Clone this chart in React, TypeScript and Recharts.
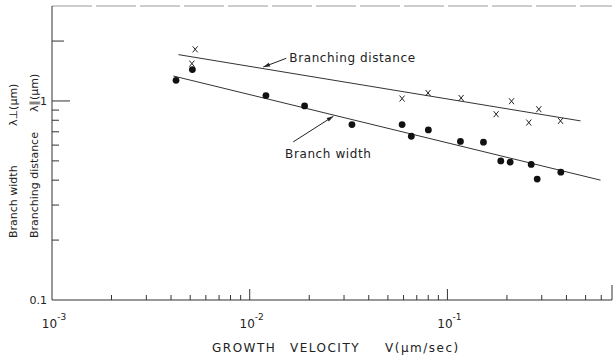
import React from "react";
import { ScatterChart, Scatter, XAxis, YAxis, ReferenceLine, ReferenceDot } from "recharts";

// growth velocity V (um/sec) and spacing lambda (um)
const distanceV = [0.0053, 0.0051, 0.059, 0.0798, 0.1173, 0.1764, 0.211, 0.258, 0.29, 0.3734];
const distanceL = [1.817, 1.541, 1.028, 1.097, 1.035, 0.858, 0.997, 0.779, 0.909, 0.794];

const widthV = [0.00424, 0.00513, 0.01208, 0.01895, 0.0329, 0.059, 0.0657, 0.0801, 0.1164, 0.1522, 0.1862, 0.2077, 0.2653, 0.2845, 0.3747];
const widthL = [1.27, 1.437, 1.064, 0.944, 0.761, 0.761, 0.665, 0.715, 0.626, 0.621, 0.5, 0.493, 0.48, 0.405, 0.439];

// fitted straight lines (end points)
const distanceFitV = [0.00436, 0.4715];
const distanceFitL = [1.709, 0.794];
const widthFitV = [0.00411, 0.595];
const widthFitL = [1.335, 0.4];

const xTicks = [
  0.001, 0.002, 0.003, 0.004, 0.005, 0.006, 0.007, 0.008, 0.009,
  0.01, 0.02, 0.03, 0.04, 0.05, 0.06, 0.07, 0.08, 0.09,
  0.1, 0.2, 0.3, 0.4, 0.5, 0.6, 0.68,
];
const yTicks = [0.1, 0.2, 0.3, 0.4, 0.5, 0.6, 0.7, 0.8, 0.9, 1, 2];

const toPoints = (vs: number[], ls: number[]) => vs.map((v, i) => ({ v, l: ls[i] }));

const INK = "#222";
const FONT = "'DejaVu Sans', sans-serif";

const XTick = (props: any) => {
  const { x, y, payload } = props;
  const val = payload.value;
  const lg = Math.log10(val);
  const exp = Math.round(lg);
  const decade = Math.abs(lg - exp) < 1e-6;
  let len = 5;
  if (val > 0.65) len = 15;
  else if (val === 0.001) len = 0;
  else if (decade) len = 11;
  return (
    <g>
      {len > 0 && <line x1={x} x2={x} y1={y} y2={y - len} stroke="#333" strokeWidth={1} />}
      {decade && (
        <text x={x + 2} y={y + 28} textAnchor="middle" fontSize={12} fill={INK} fontFamily={FONT}>
          10
          <tspan dy={-8} fontSize={9}>{exp}</tspan>
        </text>
      )}
    </g>
  );
};

const YTick = (props: any) => {
  const { x, y, payload } = props;
  const val = payload.value;
  let len = 7;
  if (val === 1) len = 18;
  else if (val === 2) len = 12;
  else if (val === 0.1) len = 0;
  return (
    <g>
      {len > 0 && <line x1={x} x2={x + len} y1={y} y2={y} stroke="#333" strokeWidth={1} />}
      {(val === 1 || val === 0.1) && (
        <text x={x - 5} y={y + 4} textAnchor="end" fontSize={11} fill={INK} fontFamily={FONT}>
          {val === 1 ? "1" : "0.1"}
        </text>
      )}
    </g>
  );
};

const Dot = (props: any) => <circle cx={props.cx} cy={props.cy} r={3.4} fill="#111" />;

const Cross = (props: any) => {
  const { cx, cy } = props;
  return (
    <g stroke={INK} strokeWidth={1}>
      <line x1={cx - 2.5} y1={cy - 3} x2={cx + 2.5} y2={cy + 3} />
      <line x1={cx + 2.5} y1={cy - 3} x2={cx - 2.5} y2={cy + 3} />
    </g>
  );
};

const NoPoint = () => <g />;

const Arrow = (props: any) => {
  const { x1, y1, x2, y2 } = props;
  const a = Math.atan2(y2 - y1, x2 - x1);
  const h = 7;
  const w = 0.3;
  const p1 = `${x2 - h * Math.cos(a - w)},${y2 - h * Math.sin(a - w)}`;
  const p2 = `${x2 - h * Math.cos(a + w)},${y2 - h * Math.sin(a + w)}`;
  return (
    <g>
      <line x1={x1} y1={y1} x2={x2} y2={y2} stroke={INK} strokeWidth={1} />
      <polygon points={`${x2},${y2} ${p1} ${p2}`} fill={INK} />
    </g>
  );
};

export default function App() {
  return (
    <div style={{ position: "absolute", left: 0, top: 0, width: 613, height: 358, background: "#fff" }}>
      <ScatterChart width={613} height={358} margin={{ top: 6, right: 1, bottom: 18, left: 7 }}>
        <XAxis
          dataKey="v"
          type="number"
          scale="log"
          domain={[0.001, 0.68]}
          ticks={xTicks}
          interval={0}
          allowDataOverflow
          tick={<XTick />}
          tickLine={false}
          tickSize={0}
          tickMargin={0}
          height={40}
          axisLine={{ stroke: "#333" }}
        />
        <YAxis
          dataKey="l"
          type="number"
          scale="log"
          domain={[0.1, 3]}
          ticks={yTicks}
          interval={0}
          allowDataOverflow
          tick={<YTick />}
          tickLine={false}
          tickSize={0}
          tickMargin={0}
          width={45}
          axisLine={{ stroke: "#333" }}
        />
        <ReferenceLine y={3} stroke="#999" strokeDasharray="40 4" />
        <Scatter data={toPoints(distanceFitV, distanceFitL)} line={{ stroke: "#333", strokeWidth: 1 }} shape={<NoPoint />} isAnimationActive={false} />
        <Scatter data={toPoints(widthFitV, widthFitL)} line={{ stroke: "#333", strokeWidth: 1 }} shape={<NoPoint />} isAnimationActive={false} />
        <Scatter data={toPoints(distanceV, distanceL)} shape={<Cross />} isAnimationActive={false} />
        <Scatter data={toPoints(widthV, widthL)} shape={<Dot />} isAnimationActive={false} />
        <ReferenceLine segment={[{ x: 0.0153, y: 1.638 }, { x: 0.01171, y: 1.481 }]} shape={<Arrow />} />
        <ReferenceLine segment={[{ x: 0.0166, y: 0.623 }, { x: 0.0265, y: 0.838 }]} shape={<Arrow />} />
        <ReferenceDot
          x={0.0155}
          y={1.64}
          r={0}
          label={{ value: "Branching distance", position: "right", offset: 2, fontSize: 12, fill: INK, fontFamily: FONT, letterSpacing: 0.6 }}
        />
        <ReferenceDot
          x={0.0151}
          y={0.546}
          r={0}
          label={{ value: "Branch width", position: "right", offset: 0, fontSize: 12, fill: INK, fontFamily: FONT, letterSpacing: 0.6 }}
        />
      </ScatterChart>
      <svg width={613} height={358} style={{ position: "absolute", left: 0, top: 0, pointerEvents: "none" }}>
        <g fontFamily={FONT} fontSize={11} fill={INK}>
          <text transform="translate(17,238) rotate(-90)">Branch width</text>
          <text transform="translate(17,126) rotate(-90)">λ⊥(μm)</text>
          <text transform="translate(38,238) rotate(-90)">Branching distance</text>
          <text transform="translate(38,112) rotate(-90)">λ∥(μm)</text>
          <g fontSize={12} letterSpacing={1.5}>
            <text x={212} y={352}>GROWTH</text>
            <text x={290} y={352}>VELOCITY</text>
            <text x={385} y={352}>V(μm/sec)</text>
          </g>
        </g>
      </svg>
    </div>
  );
}
